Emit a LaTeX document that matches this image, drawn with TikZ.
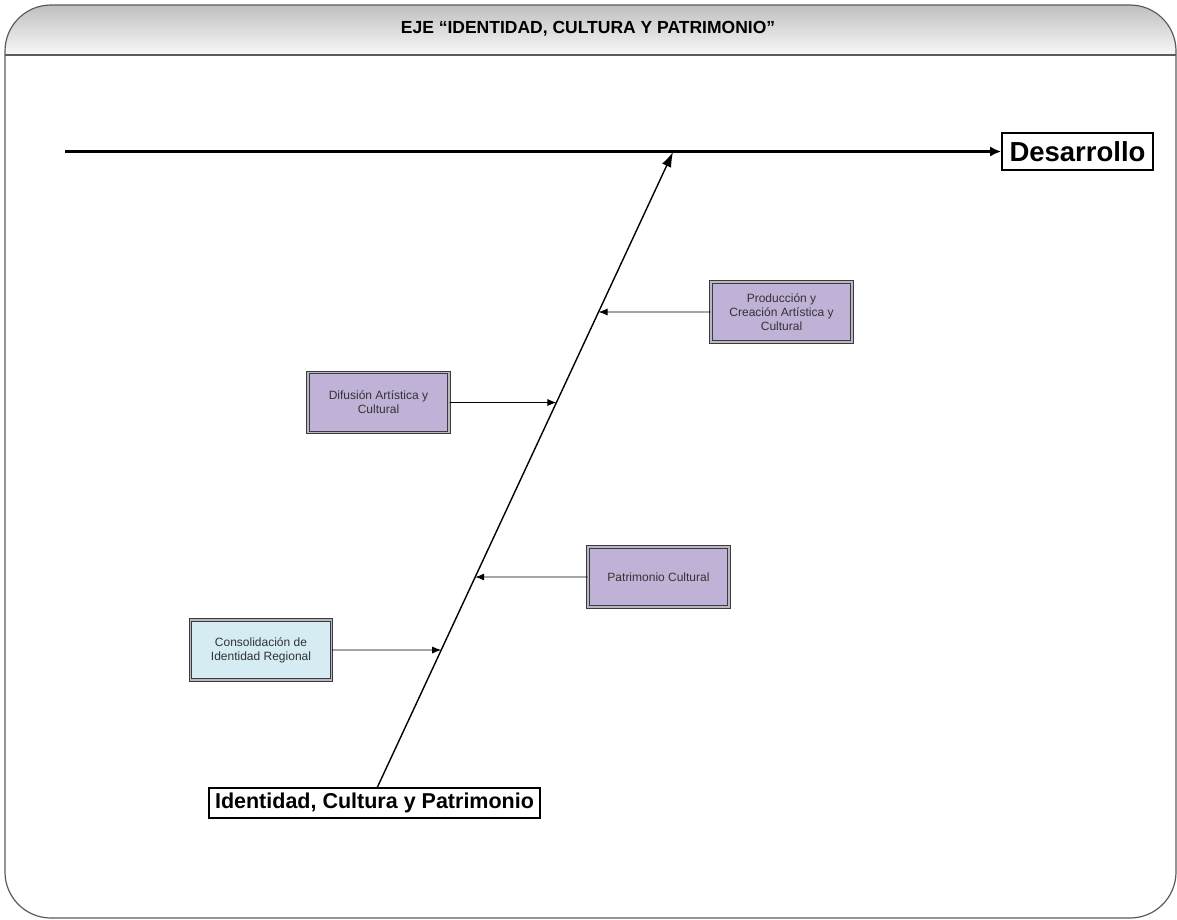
\documentclass[tikz,border=0pt]{standalone}
\usepackage{fontspec}
\setmainfont{Liberation Sans}
\usetikzlibrary{arrows.meta,calc}
\definecolor{framegray}{RGB}{90,90,90}
\definecolor{lilac}{RGB}{192,178,214}
\definecolor{paleblue}{RGB}{212,236,242}
\definecolor{boxedge}{RGB}{60,56,70}
\tikzset{
  themebox/.style={draw=boxedge, line width=1pt, double=gray!55, double distance=1.6pt,
    minimum width=141pt, minimum height=60pt, align=center,
    font=\fontsize{12}{14}\selectfont, text=black!80},
  purplebox/.style={themebox, fill=lilac},
  bluebox/.style={themebox, fill=paleblue},
  labelbox/.style={draw=black, line width=1.6pt, fill=white, font=\bfseries, inner sep=3pt},
  feeder/.style={line width=0.9pt, -{Latex[length=9pt,width=7pt]}},
  spine/.style={line width=3pt, -{Latex[length=11pt,width=10pt]}}
}
\begin{document}
\begin{tikzpicture}[x=1pt,y=-1pt]
\useasboundingbox (0,0) rectangle (1177,919);
% header band with gradient
\begin{scope}
  \clip[rounded corners=48pt] (5,5) rectangle (1176,200);
  \shade[top color=gray!50, bottom color=gray!5] (5,5) rectangle (1176,55);
\end{scope}
% page frame and header separator
\draw[framegray, line width=1.2pt, rounded corners=46pt] (5,5) rectangle (1176,918);
\draw[framegray, line width=1.5pt] (5,55) -- (1176,55);
\node (title) at (588,29) {\fontsize{17.5}{19}\selectfont\bfseries EJE “IDENTIDAD, CULTURA Y PATRIMONIO”};

% end labels
\node[labelbox, font=\fontsize{27.5}{29}\selectfont\bfseries, minimum width=151pt, minimum height=37pt, inner sep=1pt] (des) at (1077.5,151.5) {Desarrollo};
\node[labelbox, line width=1.2pt, font=\fontsize{21.5}{23}\selectfont\bfseries, minimum width=331pt, minimum height=30pt, inner sep=1pt] (ident) at (374.5,803) {Identidad, Cultura y Patrimonio};

% main horizontal axis
\coordinate (axisstart) at (65,151.5);
\draw[spine] (axisstart) -- (des.west);

% diagonal spine
\coordinate (spinebase) at (377,788);
\coordinate (spinetop) at (673,152);
\draw[line width=1.4pt, -{Latex[length=15pt,width=10pt]}] (spinebase) -- (spinetop);

% theme boxes
\node[purplebox] (prod) at (781.5,312) {Producción y\\Creación Artística y\\Cultural};
\node[purplebox] (difu) at (378.5,402.5) {Difusión Artística y\\Cultural};
\node[purplebox] (patr) at (658.5,577) {Patrimonio Cultural};
\node[bluebox] (cons) at (261,650) {Consolidación de\\Identidad Regional};

% points where each feeder meets the spine
\coordinate (pprod) at ($(spinebase)!{(788-312)/636}!(spinetop)$);
\coordinate (pdifu) at ($(spinebase)!{(788-402.5)/636}!(spinetop)$);
\coordinate (ppatr) at ($(spinebase)!{(788-577)/636}!(spinetop)$);
\coordinate (pcons) at ($(spinebase)!{(788-650)/636}!(spinetop)$);

% feeder arrows onto the spine
\draw[feeder] (prod.west) -- (pprod);
\draw[feeder] (difu.east) -- (pdifu);
\draw[feeder] (patr.west) -- (ppatr);
\draw[feeder] (cons.east) -- (pcons);
\end{tikzpicture}
\end{document}
